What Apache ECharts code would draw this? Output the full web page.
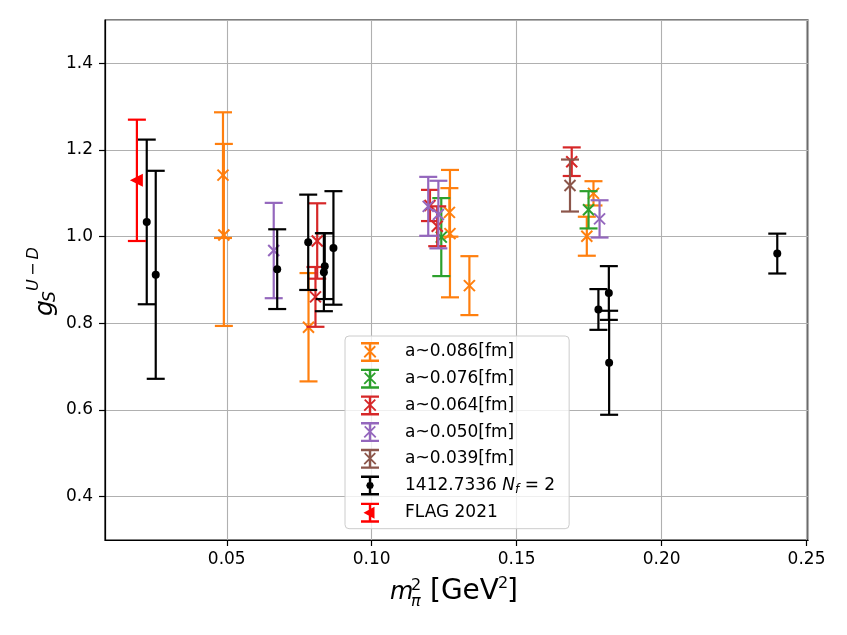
<!DOCTYPE html>
<html>
<head>
<meta charset="utf-8">
<script src="https://cdn.jsdelivr.net/npm/echarts@6/dist/echarts.min.js"></script>
<style>
  html, body { margin: 0; padding: 0; background: #fff; }
  #chart { width: 847px; height: 635px; }
</style>
</head>
<body>
<div id="chart"></div>
<script>
// each point: [m_pi^2, g_S, error]
var a086 = [
  [0.0487, 1.142, 0.145],
  [0.0490, 1.004, 0.210],
  [0.0782, 0.791, 0.125],
  [0.1268, 1.056, 0.056],
  [0.1270, 1.007, 0.147],
  [0.1337, 0.887, 0.068],
  [0.1765, 1.100, 0.028],
  [0.1742, 1.001, 0.045]
]
var a076 = [
  [0.1240, 0.999, 0.090],
  [0.1748, 1.062, 0.043]
]
var a064 = [
  [0.0812, 0.990, 0.087],
  [0.0806, 0.861, 0.069],
  [0.1201, 1.072, 0.036],
  [0.1226, 1.024, 0.046],
  [0.1690, 1.173, 0.033]
]
var a050 = [
  [0.0662, 0.968, 0.110],
  [0.1195, 1.070, 0.068],
  [0.1230, 1.051, 0.078],
  [0.1786, 1.041, 0.043]
]
var a039 = [
  [0.1684, 1.118, 0.060]
]
var nf2 = [
  [0.0224, 1.034, 0.190],
  [0.0255, 0.912, 0.240],
  [0.0674, 0.925, 0.092],
  [0.0781, 0.987, 0.110],
  [0.0838, 0.932, 0.076],
  [0.0835, 0.918, 0.090],
  [0.0868, 0.974, 0.131],
  [0.1782, 0.832, 0.047],
  [0.1818, 0.870, 0.062],
  [0.1819, 0.709, 0.120],
  [0.2399, 0.961, 0.046]
]
var flag = [
  [0.0190, 1.130, 0.140]
]

var seriesNames = ['a~0.086[fm]', 'a~0.076[fm]', 'a~0.064[fm]', 'a~0.050[fm]', 'a~0.039[fm]', '1412.7336 N_f=2', 'FLAG 2021']
var seriesData = [a086, a076, a064, a050, a039, nf2, flag]
var seriesColors = ['#ff7f0e', '#2ca02c', '#d62728', '#9467bd', '#8c564b', '#000000', '#ff0000']
var seriesMarkers = ['x', 'x', 'x', 'x', 'x', 'dot', 'tri']

// legend icons (filled paths, 18x20 box)
var barPath = 'M0 0 H18 V2.4 H0 Z M0 17.6 H18 V20 H0 Z M7.8 0 H10.2 V20 H7.8 Z '
var iconX = 'path://' + barPath + 'M4.4 3.6 L15.4 14.6 L14.1 15.9 L3.1 4.9 Z M13.6 3.6 L14.9 4.9 L3.9 15.9 L2.6 14.6 Z'
var iconDot = 'path://' + barPath + 'M12.8 10 L11.7 12.7 L9 13.8 L6.3 12.7 L5.2 10 L6.3 7.3 L9 6.2 L11.7 7.3 Z'
var iconTri = 'path://' + barPath + 'M2.5 10 L13.5 4 L13.5 16 Z'
var icons = { x: iconX, dot: iconDot, tri: iconTri }

function makeErrorBar (color, marker) {
  return function (params, api) {
    var x = api.value(0), y = api.value(1), e = api.value(2)
    var top = api.coord([x, y + e])
    var bot = api.coord([x, y - e])
    var c = api.coord([x, y])
    var lw = 2.2, cap = 9
    var line = { stroke: color, lineWidth: lw }
    var children = [
      { type: 'line', shape: { x1: c[0], y1: top[1], x2: c[0], y2: bot[1] }, style: line },
      { type: 'line', shape: { x1: c[0] - cap, y1: top[1], x2: c[0] + cap, y2: top[1] }, style: line },
      { type: 'line', shape: { x1: c[0] - cap, y1: bot[1], x2: c[0] + cap, y2: bot[1] }, style: line }
    ]
    if (marker === 'x') {
      var s = 5.5
      children.push({ type: 'line', shape: { x1: c[0] - s, y1: c[1] - s, x2: c[0] + s, y2: c[1] + s }, style: { stroke: color, lineWidth: 2 } })
      children.push({ type: 'line', shape: { x1: c[0] - s, y1: c[1] + s, x2: c[0] + s, y2: c[1] - s }, style: { stroke: color, lineWidth: 2 } })
    } else if (marker === 'dot') {
      children.push({ type: 'circle', shape: { cx: c[0], cy: c[1], r: 4 }, style: { fill: color } })
    } else {
      children.push({ type: 'polygon', shape: { points: [[c[0] - 7, c[1]], [c[0] + 6, c[1] - 6.5], [c[0] + 6, c[1] + 6.5]] }, style: { fill: color } })
    }
    return { type: 'group', children: children }
  }
}

var series = seriesNames.map(function (name, i) {
  return {
    name: name,
    type: 'custom',
    itemStyle: { color: seriesColors[i] },
    renderItem: makeErrorBar(seriesColors[i], seriesMarkers[i]),
    encode: { x: 0, y: 1 },
    data: seriesData[i],
    z: 2 + i
  }
})

var legendData = seriesNames.map(function (name, i) {
  return { name: name, icon: icons[seriesMarkers[i]], itemStyle: { color: seriesColors[i] } }
})

var font = 'DejaVu Sans'
var chart = echarts.init(document.getElementById('chart'))
chart.setOption({
  animation: false,
  backgroundColor: '#fff',
  textStyle: { fontFamily: font },
  grid: { left: 105, right: 39, top: 20, bottom: 95, show: true, borderColor: '#000', borderWidth: 1.2 },
  xAxis: {
    type: 'value',
    min: 0.0080,
    max: 0.2505,
    splitNumber: 5,
    axisLine: { show: true, lineStyle: { color: '#000', width: 1.2 } },
    axisTick: { show: true, length: 6, lineStyle: { color: '#000', width: 1.2 } },
    axisLabel: { color: '#000', fontSize: 17, fontFamily: font, margin: 11, showMinLabel: false, showMaxLabel: false,
      formatter: function (v) { return v.toFixed(2) } },
    splitLine: { show: true, lineStyle: { color: '#b0b0b0', width: 1.1 } }
  },
  yAxis: {
    type: 'value',
    min: 0.3,
    max: 1.5,
    splitNumber: 6,
    axisLine: { show: true, lineStyle: { color: '#000', width: 1.2 } },
    axisTick: { show: true, length: 6, lineStyle: { color: '#000', width: 1.2 } },
    axisLabel: { color: '#000', fontSize: 17, fontFamily: font, margin: 12, showMinLabel: false, showMaxLabel: false,
      formatter: function (v) { return v.toFixed(1) } },
    splitLine: { show: true, lineStyle: { color: '#b0b0b0', width: 1.1 } }
  },
  legend: {
    orient: 'vertical',
    left: 345,
    top: 336,
    padding: [6, 14, 6, 16],
    itemWidth: 18,
    itemHeight: 20,
    itemGap: 6.7,
    backgroundColor: 'rgba(255,255,255,0.8)',
    borderColor: '#cccccc',
    borderWidth: 1,
    borderRadius: 4,
    data: legendData,
    formatter: function (name) {
      if (name === '1412.7336 N_f=2') return '1412.7336 {it|N}{sub|f}{n| = 2}'
      return name
    },
    textStyle: {
      color: '#000', fontSize: 17, fontFamily: font, padding: [0, 0, 0, 21],
      rich: {
        it: { fontSize: 17, fontStyle: 'italic', fontFamily: font },
        sub: { fontSize: 12, fontStyle: 'italic', fontFamily: font, padding: [9, 0, 0, 0] },
        n: { fontSize: 17, fontFamily: font }
      }
    }
  },
  graphic: [
    {
      type: 'group', x: 45, y: 316, rotation: Math.PI / 2,
      children: [
        { type: 'text', x: 0, y: 0, style: { text: 'g', font: 'italic 25px "DejaVu Sans"', fill: '#000', verticalAlign: 'middle' } },
        { type: 'text', x: 14, y: 6, style: { text: 'S', font: 'italic 17px "DejaVu Sans"', fill: '#000', verticalAlign: 'middle' } },
        { type: 'text', x: 25, y: -11, style: { text: 'U\u2009\u2212\u2009D', font: 'italic 16px "DejaVu Sans"', fill: '#000', verticalAlign: 'middle' } }
      ]
    },
    { type: 'text', x: 390, y: 593, style: { text: 'm', font: 'italic 24px "DejaVu Sans"', fill: '#000', verticalAlign: 'middle' } },
    { type: 'text', x: 411, y: 602, style: { text: 'π', font: 'italic 16px "DejaVu Sans"', fill: '#000', verticalAlign: 'middle' } },
    { type: 'text', x: 411, y: 586, style: { text: '2', font: '16px "DejaVu Sans"', fill: '#000', verticalAlign: 'middle' } },
    { type: 'text', x: 430, y: 592, style: { text: '[GeV', font: '28px "DejaVu Sans"', fill: '#000', verticalAlign: 'middle' } },
    { type: 'text', x: 498, y: 584, style: { text: '2', font: '16px "DejaVu Sans"', fill: '#000', verticalAlign: 'middle' } },
    { type: 'text', x: 507, y: 592, style: { text: ']', font: '28px "DejaVu Sans"', fill: '#000', verticalAlign: 'middle' } }
  ],
  series: series
})
</script>
</body>
</html>
